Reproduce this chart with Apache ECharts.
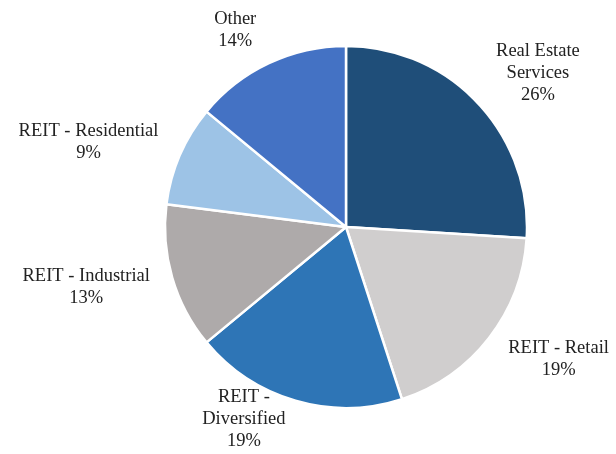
<!DOCTYPE html>
<html><head><meta charset="utf-8">
<script src="https://cdn.jsdelivr.net/npm/echarts@6/dist/echarts.min.js"></script>
<style>html,body{margin:0;padding:0;background:#fff}#c{width:616px;height:454px}</style>
</head><body><div id="c"></div>
<script>
var categories = ['Real Estate\nServices', 'REIT - Retail', 'REIT -\nDiversified', 'REIT - Industrial', 'REIT - Residential', 'Other'];
var values = [26, 19, 19, 13, 9, 14];
var colors = ['#1F4E79', '#D0CECE', '#2E75B6', '#AEAAAA', '#9DC3E6', '#4472C4'];

var W = 616, H = 454, CX = 346, CY = 227;
var chart = echarts.init(document.getElementById('c'));
chart.setOption({
  animation: false,
  series: [{
    type: 'pie',
    center: [CX, CY],
    radius: 181,
    startAngle: 90,
    clockwise: true,
    avoidLabelOverlap: false,
    itemStyle: { borderColor: '#fff', borderWidth: 2.5 },
    label: {
      show: true,
      position: 'outside',
      formatter: function (p) { return p.name + '\n' + p.value + '%'; },
      fontFamily: 'Liberation Serif',
      fontSize: 18.5,
      lineHeight: 22,
      color: '#222'
    },
    labelLine: { show: false, length: 18, length2: 0 },
    labelLayout: function (p) {
      var r = p.labelRect;
      var x = r.x + r.width / 2, y = r.y + r.height / 2;
      var dx = x - CX, dy = y - CY, d = Math.sqrt(dx * dx + dy * dy);
      y += dy / d * r.height / 2 * 0.9;
      y = Math.max(r.height / 2 + 2, Math.min(H - r.height / 2 - 2, y));
      return { x: x, y: y, align: 'center', verticalAlign: 'middle' };
    },
    data: categories.map(function (c, i) {
      return { name: c, value: values[i], itemStyle: { color: colors[i] } };
    })
  }]
});
</script></body></html>
